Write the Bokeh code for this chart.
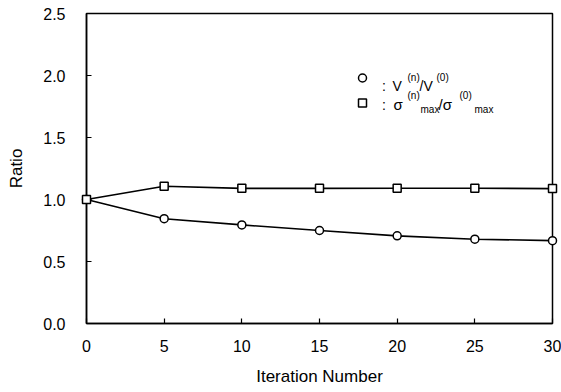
from bokeh.plotting import figure
from bokeh.models import Label, Legend, LegendItem, FixedTicker, Range1d
from bokeh.embed import file_html
from bokeh.resources import INLINE

# ---- data ----
iterations = [0, 5, 10, 15, 20, 25, 30]
volume_ratio = [1.0, 0.845, 0.795, 0.75, 0.707, 0.68, 0.668]
stress_ratio = [1.0, 1.107, 1.09, 1.09, 1.091, 1.091, 1.088]

x_ticks = [0, 5, 10, 15, 20, 25, 30]
x_tick_labels = ["0", "5", "10", "15", "20", "25", "30"]
y_ticks = [0.0, 0.5, 1.0, 1.5, 2.0, 2.5]
y_tick_labels = ["0.0", "0.5", "1.0", "1.5", "2.0", "2.5"]

x_title = "Iteration Number"
y_title = "Ratio"

FONT = "Liberation Sans"

p = figure(width=561, height=392, output_backend="svg", toolbar_location=None,
           x_range=Range1d(0, 30), y_range=Range1d(0, 2.5),
           min_border_left=86, min_border_right=9, min_border_top=13,
           min_border_bottom=69, background_fill_color="white",
           border_fill_color="white")
p.grid.visible = False
p.outline_line_color = "black"
p.outline_line_width = 1.5

p.xaxis.ticker = FixedTicker(ticks=x_ticks)
p.yaxis.ticker = FixedTicker(ticks=y_ticks)
p.xaxis.major_label_overrides = dict(zip(x_ticks, x_tick_labels))
p.yaxis.major_label_overrides = dict(zip(y_ticks, y_tick_labels))
p.xaxis.axis_label = x_title
p.yaxis.axis_label = y_title
for ax in p.axis:
    ax.axis_line_color = "black"
    ax.axis_line_width = 1.5
    ax.major_tick_in = 5
    ax.major_tick_out = 0
    ax.major_tick_line_width = 1.2
    ax.major_tick_line_color = "black"
    ax.minor_tick_in = 0
    ax.minor_tick_out = 0
    ax.major_label_text_font = FONT
    ax.major_label_text_font_size = "16px"
    ax.major_label_text_color = "black"
    ax.axis_label_text_font = FONT
    ax.axis_label_text_font_size = "17px"
    ax.axis_label_text_font_style = "normal"
    ax.axis_label_text_color = "black"
p.xaxis.major_label_standoff = 16
p.yaxis.major_label_standoff = 21
p.xaxis.axis_label_standoff = 12
p.yaxis.axis_label_standoff = 14

# ---- series ----
p.line(iterations, volume_ratio, line_color="black", line_width=1.6)
p.line(iterations, stress_ratio, line_color="black", line_width=1.6)
r_circ = p.scatter(iterations, volume_ratio, marker="circle", size=8,
                   fill_color="white", line_color="black", line_width=1.5,
                   level="overlay")
r_sq = p.scatter(iterations, stress_ratio, marker="square", size=8,
                 fill_color="white", line_color="black", line_width=1.5,
                 level="overlay")

# ---- legend keys ----
legend = Legend(items=[LegendItem(label=" ", renderers=[r_circ]),
                       LegendItem(label=" ", renderers=[r_sq])],
                location=(266, 208.5), orientation="vertical",
                glyph_width=20, glyph_height=25, label_height=25,
                label_width=1, label_standoff=0, spacing=0, padding=0,
                margin=0, border_line_color=None, background_fill_alpha=0,
                label_text_font_size="1px")
p.add_layout(legend)

# ---- legend texts (pieces with offsets from frame top-left) ----
legend_texts = [
    # text, x_off, y_off(from top, down), size
    (":", 295.5, 72, "14px"),
    ("V", 306, 72, "14px"),
    ("(n)", 321, 64, "10px"),
    ("/V", 333, 72, "14px"),
    ("(0)", 350, 64, "10px"),
    (":", 295.5, 91, "14px"),
    ("σ", 307, 91, "15px"),
    ("(n)", 321, 82, "10px"),
    ("max", 334, 96, "10px"),
    ("/σ", 352, 91, "15px"),
    ("(0)", 373, 82, "10px"),
    ("max", 388, 96, "10px"),
]
for t, xo, yo, fs in legend_texts:
    p.add_layout(Label(x=0, y=2.5, x_offset=xo, y_offset=-yo, text=t,
                       text_font=FONT, text_font_size=fs, text_color="black",
                       text_align="left", text_baseline="alphabetic"))

open("out.html", "w").write(file_html(p, INLINE))
